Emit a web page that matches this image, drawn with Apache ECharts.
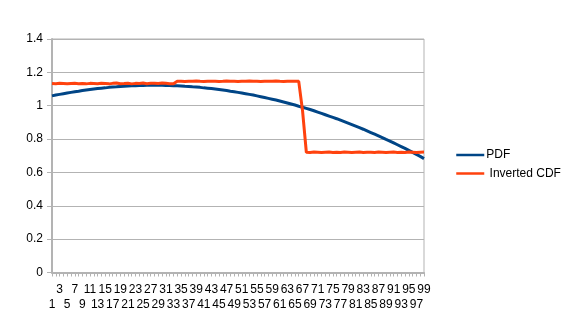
<!DOCTYPE html>
<html>
<head>
<meta charset="utf-8">
<script src="https://cdn.jsdelivr.net/npm/echarts@6/dist/echarts.min.js"></script>
<style>
    html, body {margin: 0; padding: 0; background: #fff;}
    #chart {width: 563px; height: 335px;}
</style>
</head>
<body>
<div id="chart"></div>
<script>
    // categories 1..99
    const categories = [
        '1', '2', '3', '4', '5', '6', '7', '8', '9', '10',
        '11', '12', '13', '14', '15', '16', '17', '18', '19', '20',
        '21', '22', '23', '24', '25', '26', '27', '28', '29', '30',
        '31', '32', '33', '34', '35', '36', '37', '38', '39', '40',
        '41', '42', '43', '44', '45', '46', '47', '48', '49', '50',
        '51', '52', '53', '54', '55', '56', '57', '58', '59', '60',
        '61', '62', '63', '64', '65', '66', '67', '68', '69', '70',
        '71', '72', '73', '74', '75', '76', '77', '78', '79', '80',
        '81', '82', '83', '84', '85', '86', '87', '88', '89', '90',
        '91', '92', '93', '94', '95', '96', '97', '98', '99'
    ];
    const pdf = [
        1.059, 1.064, 1.068, 1.072, 1.076, 1.080, 1.084, 1.087, 1.091, 1.094,
        1.097, 1.100, 1.103, 1.105, 1.107, 1.110, 1.112, 1.113, 1.115, 1.116,
        1.118, 1.119, 1.120, 1.121, 1.121, 1.122, 1.122, 1.122, 1.122, 1.122,
        1.121, 1.121, 1.120, 1.119, 1.118, 1.116, 1.115, 1.113, 1.112, 1.110,
        1.107, 1.105, 1.103, 1.100, 1.097, 1.094, 1.091, 1.087, 1.084, 1.080,
        1.076, 1.072, 1.068, 1.064, 1.059, 1.054, 1.049, 1.044, 1.039, 1.034,
        1.028, 1.022, 1.016, 1.010, 1.004, 0.997, 0.991, 0.984, 0.977, 0.970,
        0.962, 0.954, 0.946, 0.938, 0.930, 0.922, 0.913, 0.904, 0.895, 0.886,
        0.877, 0.868, 0.859, 0.849, 0.839, 0.829, 0.819, 0.809, 0.798, 0.788,
        0.777, 0.766, 0.755, 0.744, 0.732, 0.720, 0.708, 0.696, 0.683
    ];
    const invertedCdf = [
        1.133, 1.132, 1.134, 1.133, 1.131, 1.133, 1.134, 1.132, 1.133, 1.131,
        1.134, 1.133, 1.132, 1.135, 1.133, 1.131, 1.134, 1.136, 1.132, 1.133,
        1.135, 1.131, 1.134, 1.133, 1.136, 1.132, 1.134, 1.135, 1.133, 1.136,
        1.134, 1.132, 1.131, 1.146, 1.147, 1.145, 1.147, 1.146, 1.148, 1.146,
        1.145, 1.147, 1.146, 1.147, 1.145, 1.146, 1.148, 1.147, 1.146, 1.145,
        1.147, 1.146, 1.148, 1.146, 1.147, 1.145, 1.146, 1.147, 1.146, 1.148,
        1.146, 1.145, 1.147, 1.146, 1.147, 1.146, 0.970, 0.721, 0.720, 0.722,
        0.721, 0.720, 0.721, 0.722, 0.720, 0.721, 0.720, 0.722, 0.721, 0.720,
        0.721, 0.722, 0.720, 0.721, 0.721, 0.720, 0.722, 0.721, 0.720, 0.721,
        0.722, 0.720, 0.721, 0.720, 0.722, 0.721, 0.720, 0.721, 0.722
    ];
    const seriesNames = ['PDF', ' Inverted CDF'];
    const colors = ['#004586', '#ff420e'];

    const chart = echarts.init(document.getElementById('chart'), null, {renderer: 'canvas'});
    const font = 'Liberation Sans';
    const labelStyle = {fontSize: 12, color: '#000', fontFamily: font};
    const option = {
        animation: false,
        color: colors,
        textStyle: {fontFamily: font},
        grid: {
            left: 52,
            top: 39,
            width: 372,
            height: 233.5,
            show: true,
            borderColor: '#b3b3b3',
            borderWidth: 1,
        },
        legend: {
            orient: 'vertical',
            left: 455,
            top: 149,
            padding: 0,
            itemWidth: 28,
            itemHeight: 14,
            itemGap: 6.5,
            itemStyle: {opacity: 0},
            lineStyle: {width: 2.5},
            textStyle: {fontFamily: font, fontSize: 12, color: '#000', padding: [0, 0, 0, -3]},
            data: seriesNames,
        },
        xAxis: [
            {
                // top row of labels: 3, 7, 11 ... 99
                type: 'category',
                data: categories,
                boundaryGap: false,
                axisLine: {lineStyle: {color: '#b3b3b3', width: 2}},
                axisTick: {interval: 0, length: 4, lineStyle: {color: '#b3b3b3'}},
                axisLabel: Object.assign({
                    interval: (i) => i % 4 === 2,
                    margin: 11,
                    showMinLabel: true,
                    showMaxLabel: true,
                }, labelStyle),
                splitLine: {show: false},
            },
            {
                // bottom row: 1, 5, 9 ... 97
                type: 'category',
                data: categories,
                boundaryGap: false,
                position: 'bottom',
                axisLine: {show: false},
                axisTick: {show: false},
                axisLabel: Object.assign({
                    interval: (i) => i % 4 === 0,
                    margin: 26,
                    showMinLabel: true,
                    showMaxLabel: true,
                }, labelStyle),
                splitLine: {show: false},
            },
        ],
        yAxis: {
            type: 'value',
            min: 0,
            max: 1.4,
            interval: 0.2,
            axisLine: {show: true, lineStyle: {color: '#b3b3b3', width: 2}},
            axisTick: {show: true, length: 5, lineStyle: {color: '#b3b3b3'}},
            axisLabel: Object.assign({margin: 9}, labelStyle),
            splitLine: {lineStyle: {color: '#b3b3b3', width: 1}},
        },
        series: [
            {
                name: seriesNames[0],
                type: 'line',
                data: pdf,
                symbol: 'none',
                lineStyle: {width: 3, color: colors[0]},
            },
            {
                name: seriesNames[1],
                type: 'line',
                data: invertedCdf,
                symbol: 'none',
                lineStyle: {width: 3, color: colors[1]},
            },
        ],
    };
    chart.setOption(option);
</script>
</body>
</html>
